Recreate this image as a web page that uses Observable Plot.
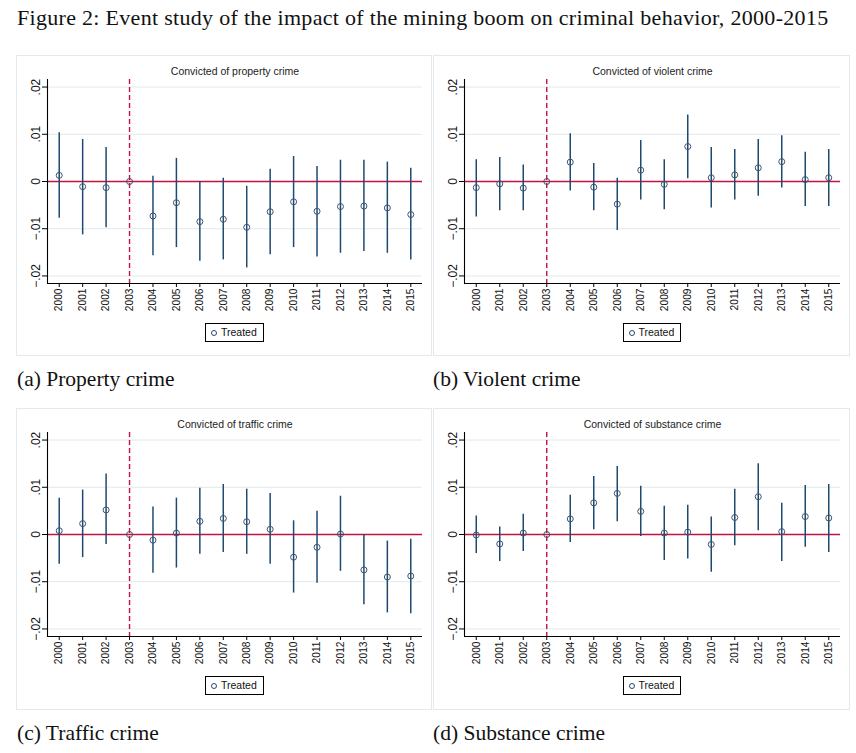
<!DOCTYPE html>
<html>
<head>
<meta charset="utf-8">
<script src="https://cdn.jsdelivr.net/npm/d3@7"></script>
<script src="https://cdn.jsdelivr.net/npm/@observablehq/plot@0.6"></script>
<style>
  html, body { margin: 0; padding: 0; background: #fff; }
  body { width: 856px; height: 753px; position: relative; overflow: hidden; }
  #title { position: absolute; left: 17px; top: 5px; font-family: "Liberation Serif", serif; font-size: 22px; white-space: nowrap; color: #111; }
  .panel { position: absolute; outline: 1px solid #e2eaeb; outline-offset: -1px; background: #fff; }
  .panel svg { position: absolute; left: 0; top: 0; }
  .legend { position: absolute; top: 268px; height: 19px; border: 1px solid #000; box-sizing: border-box; font-family: "Liberation Sans", Arial, sans-serif; font-size: 10.5px; line-height: 17px; padding: 0 6px 0 5px; white-space: nowrap; color: #111; }
  .legend .sym { display: inline-block; width: 4px; height: 4px; border: 1px solid #2b4a6d; border-radius: 50%; margin-right: 4px; vertical-align: 0px; }
  .cap { position: absolute; font-family: "Liberation Serif", serif; font-size: 21.5px; white-space: nowrap; color: #111; }
</style>
</head>
<body>
<div id="title">Figure 2: Event study of the impact of the mining boom on criminal behavior, 2000-2015</div>
<div id="root"></div>
<script>
// ---- data ----
const years = [2000, 2001, 2002, 2003, 2004, 2005, 2006, 2007, 2008, 2009, 2010, 2011, 2012, 2013, 2014, 2015];
const eventYear = 2003;

const propertyCoef = [0.0013, -0.0011, -0.0013, 0, -0.0073, -0.0045, -0.0085, -0.0080, -0.0097, -0.0064, -0.0043, -0.0063, -0.0053, -0.0052, -0.0056, -0.0070];
const propertyLo   = [-0.0078, -0.0113, -0.0098, 0, -0.0157, -0.0140, -0.0169, -0.0166, -0.0183, -0.0155, -0.0140, -0.0160, -0.0152, -0.0148, -0.0152, -0.0166];
const propertyHi   = [0.0103, 0.0089, 0.0072, 0, 0.0011, 0.0049, 0.0000, 0.0007, -0.0010, 0.0026, 0.0053, 0.0032, 0.0045, 0.0045, 0.0041, 0.0028];

const violentCoef = [-0.0013, -0.0005, -0.0014, 0, 0.0041, -0.0012, -0.0048, 0.0024, -0.0006, 0.0074, 0.0008, 0.0014, 0.0029, 0.0042, 0.0004, 0.0008];
const violentLo   = [-0.0075, -0.0062, -0.0062, 0, -0.0020, -0.0062, -0.0104, -0.0039, -0.0060, 0.0006, -0.0056, -0.0039, -0.0031, -0.0014, -0.0053, -0.0053];
const violentHi   = [0.0046, 0.0051, 0.0035, 0, 0.0101, 0.0038, 0.0007, 0.0087, 0.0046, 0.0141, 0.0072, 0.0068, 0.0089, 0.0097, 0.0062, 0.0068];

const trafficCoef = [0.0008, 0.0023, 0.0052, 0, -0.0012, 0.0003, 0.0028, 0.0034, 0.0027, 0.0011, -0.0048, -0.0027, 0.0001, -0.0075, -0.0090, -0.0088];
const trafficLo   = [-0.0063, -0.0049, -0.0021, 0, -0.0082, -0.0071, -0.0042, -0.0038, -0.0042, -0.0063, -0.0124, -0.0103, -0.0078, -0.0149, -0.0166, -0.0168];
const trafficHi   = [0.0077, 0.0094, 0.0128, 0, 0.0058, 0.0077, 0.0098, 0.0106, 0.0096, 0.0087, 0.0029, 0.0049, 0.0081, 0.0000, -0.0014, -0.0010];

const substanceCoef = [-0.0001, -0.0020, 0.0003, 0, 0.0033, 0.0067, 0.0087, 0.0049, 0.0003, 0.0005, -0.0021, 0.0036, 0.0080, 0.0006, 0.0038, 0.0035];
const substanceLo   = [-0.0040, -0.0057, -0.0036, 0, -0.0017, 0.0010, 0.0027, -0.0004, -0.0055, -0.0052, -0.0080, -0.0024, 0.0008, -0.0057, -0.0027, -0.0038];
const substanceHi   = [0.0039, 0.0016, 0.0043, 0, 0.0083, 0.0123, 0.0144, 0.0102, 0.0060, 0.0062, 0.0037, 0.0096, 0.0150, 0.0066, 0.0104, 0.0106];

const yTicks = [-0.02, -0.01, 0, 0.01, 0.02];
const yTickLabels = ["\u2212.02", "\u2212.01", "0", ".01", ".02"];
const gridTicks = [-0.02, -0.01, 0.01, 0.02];
const panelTitles = ["Convicted of property crime", "Convicted of violent crime", "Convicted of traffic crime", "Convicted of substance crime"];
const captions = ["(a) Property crime", "(b) Violent crime", "(c) Traffic crime", "(d) Substance crime"];
const legendLabel = "Treated";

// ---- styles ----
const NAVY = "#1f4a70";
const RED = "#c2123f";
const GRID = "#e1e9ea";
const xDomain = [1999.5, 2015.5];
const yDomain = [-0.0216, 0.0216];

const series = [
  [propertyCoef, propertyLo, propertyHi],
  [violentCoef, violentLo, violentHi],
  [trafficCoef, trafficLo, trafficHi],
  [substanceCoef, substanceLo, substanceHi]
];

const panelBoxes = [
  {left: 16, top: 55, w: 416, h: 301, capTop: 367, capLeft: 17},
  {left: 433, top: 55, w: 417, h: 301, capTop: 367, capLeft: 433},
  {left: 16, top: 408, w: 416, h: 302, capTop: 721, capLeft: 17},
  {left: 433, top: 408, w: 417, h: 302, capTop: 721, capLeft: 433}
];

// stretch the figure title to the width it has in the reference
const titleEl = document.getElementById("title");
const targetTitleWidth = 811;
const nChars = titleEl.textContent.length;
titleEl.style.letterSpacing = ((targetTitleWidth - titleEl.offsetWidth) / nChars) + "px";

const root = document.getElementById("root");
const mL = 31, mR = 10, mT = 24, mB = 34, H = 262;

series.forEach(([coef, lo, hi], i) => {
  const box = panelBoxes[i];
  const data = years.map((y, j) => ({year: y, coef: coef[j], lo: lo[j], hi: hi[j]}));
  const panel = document.createElement("div");
  panel.className = "panel";
  Object.assign(panel.style, {left: box.left + "px", top: box.top + "px", width: box.w + "px", height: box.h + "px"});

  const chart = Plot.plot({
    width: box.w,
    height: H,
    marginLeft: mL, marginRight: mR, marginTop: mT, marginBottom: mB,
    style: {fontFamily: "'Liberation Sans', Arial, sans-serif", background: "transparent", color: "#111"},
    x: {domain: xDomain, axis: null},
    y: {domain: yDomain, axis: null},
    marks: [
      Plot.gridY(gridTicks, {stroke: GRID, strokeOpacity: 1, strokeWidth: 1}),
      Plot.ruleY([0], {stroke: RED, strokeWidth: 1.6}),
      Plot.ruleX([eventYear], {stroke: RED, strokeWidth: 1.4, strokeDasharray: "5,3"}),
      Plot.ruleX(data, {x: "year", y1: "lo", y2: "hi", stroke: NAVY, strokeWidth: 1.5}),
      Plot.dot(data, {x: "year", y: "coef", r: 3, stroke: "#3a5474", strokeWidth: 1, fill: "none"}),
      Plot.ruleX([xDomain[0]], {stroke: "#000", strokeWidth: 1.1}),
      Plot.ruleY([yDomain[0]], {stroke: "#000", strokeWidth: 1.1}),
      Plot.axisY({ticks: yTicks, tickFormat: d => yTickLabels[yTicks.indexOf(d)], tickRotate: -90, tickSize: 5, tickPadding: 3, fontSize: 12, label: null, stroke: "#000"}),
      Plot.axisX({ticks: years, tickFormat: d => String(d), tickRotate: -90, tickSize: 4, tickPadding: 1, fontSize: 10.2, label: null, stroke: "#000"}),
      Plot.text([panelTitles[i]], {frameAnchor: "top", dy: -5, lineAnchor: "bottom", fontSize: 10.5, fill: "#222"})
    ]
  });
  panel.appendChild(chart);

  const legend = document.createElement("div");
  legend.className = "legend";
  legend.innerHTML = '<span class="sym"></span>' + legendLabel;
  panel.appendChild(legend);
  root.appendChild(panel);
  const cx = mL + (box.w - mL - mR) / 2;
  legend.style.left = (cx - legend.offsetWidth / 2) + "px";

  const cap = document.createElement("div");
  cap.className = "cap";
  cap.textContent = captions[i];
  Object.assign(cap.style, {left: box.capLeft + "px", top: box.capTop + "px"});
  root.appendChild(cap);
});
</script>
</body>
</html>
